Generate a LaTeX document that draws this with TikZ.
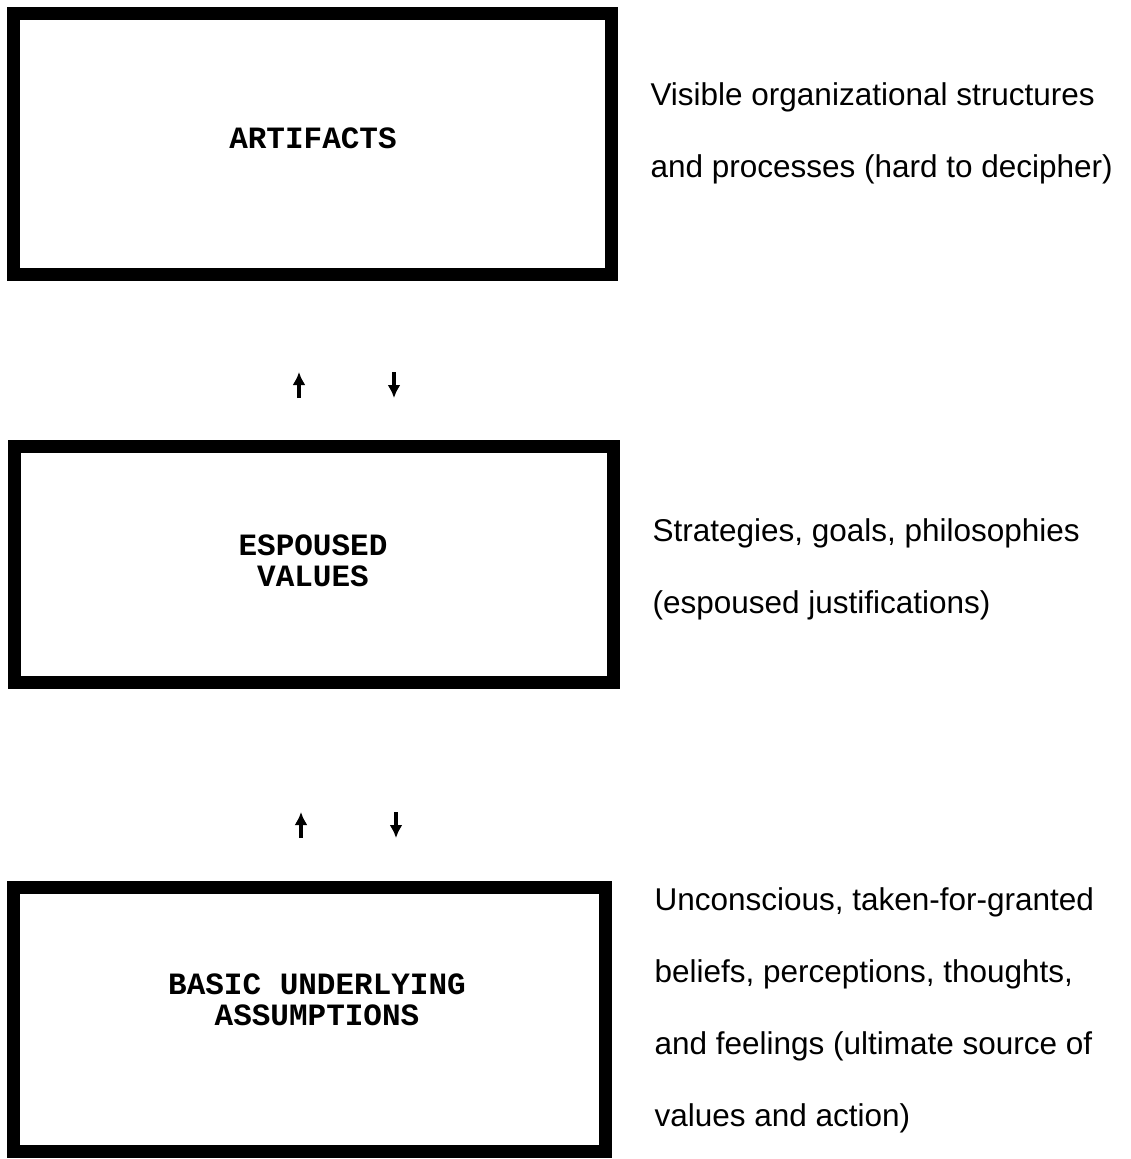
\documentclass[tikz,border=0pt]{standalone}
\usepackage{fontspec}
\setmainfont{Liberation Sans}
\newfontfamily\boxfont{Liberation Mono}
\usepackage{tikz}
\usetikzlibrary{positioning}
\usetikzlibrary{arrows,arrows.meta}
\tikzset{
  layer/.style={draw, line width=13pt, inner sep=0pt},
  layername/.style={font=\boxfont\bfseries\fontsize{31}{31}\selectfont, align=center, anchor=base},
  layernote/.style={font=\fontsize{31.5}{72}\selectfont, align=left, anchor=base west},
  flow/.style={line width=3.5pt, -{Latex[length=13pt,width=13pt]}}
}

\begin{document}
\begin{tikzpicture}[x=1pt,y=-1pt]
\useasboundingbox (0,0) rectangle (1130,1159);
% the three levels
\node[layer, minimum width=598pt, minimum height=261pt] (art) at (312,143.5) {};
\node[layer, minimum width=599pt, minimum height=236pt] (esp) at (313.5,564) {};
\node[layer, minimum width=592pt, minimum height=264pt] (bua) at (309,1019) {};
% names (base = last line)
\node[layername] (artname) at (313,148) {ARTIFACTS};
\node[layername] (espname) at (313,586) {ESPOUSED\\VALUES};
\node[layername] (buaname) at (317,1025) {BASIC UNDERLYING\\ASSUMPTIONS};
% notes on the right
\node[layernote] (artnote) at (647,177) {Visible organizational structures\\and processes (hard to decipher)};
\node[layernote] (espnote) at (649,613) {Strategies, goals, philosophies\\(espoused justifications)};
\node[layernote] (buanote) at (651,1126) {Unconscious, taken-for-granted\\beliefs, perceptions, thoughts,\\and feelings (ultimate source of\\values and action)};
% small arrows between the levels
\coordinate (up1s) at (299,398); \coordinate (up1e) at (299,372);
\coordinate (dn1s) at (394,372); \coordinate (dn1e) at (394,398);
\coordinate (up2s) at (301,838); \coordinate (up2e) at (301,812);
\coordinate (dn2s) at (396,812); \coordinate (dn2e) at (396,838);
\draw[flow] (up1s) -- (up1e);
\draw[flow] (dn1s) -- (dn1e);
\draw[flow] (up2s) -- (up2e);
\draw[flow] (dn2s) -- (dn2e);
\end{tikzpicture}
\end{document}
